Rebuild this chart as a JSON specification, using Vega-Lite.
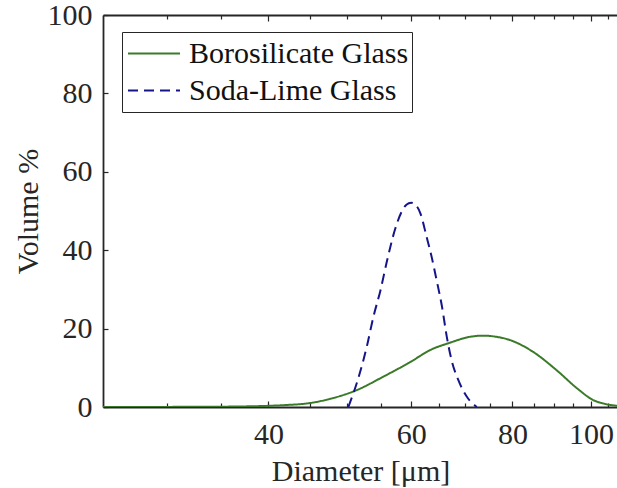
{
  "$schema": "https://vega.github.io/schema/vega-lite/v6.json",
  "width": 515,
  "height": 392,
  "autosize": {"type": "none"},
  "padding": {"left": 103, "top": 15, "right": 0, "bottom": 81},
  "background": "white",
  "config": {
    "view": {"stroke": null},
    "font": "Liberation Serif",
    "axis": {
      "labelFont": "Liberation Serif",
      "titleFont": "Liberation Serif",
      "labelFontSize": 30,
      "titleFontSize": 30,
      "titleFontWeight": "normal",
      "labelColor": "#262626",
      "titleColor": "#262626",
      "domainColor": "#262626",
      "tickColor": "#262626",
      "domainWidth": 1.8,
      "tickWidth": 1.2,
      "grid": false
    }
  },
  "data": {
    "values": [
      {"series": "Borosilicate Glass", "d": 25, "v": 0.02},
      {"series": "Borosilicate Glass", "d": 30, "v": 0.03},
      {"series": "Borosilicate Glass", "d": 35, "v": 0.08},
      {"series": "Borosilicate Glass", "d": 38, "v": 0.18},
      {"series": "Borosilicate Glass", "d": 40, "v": 0.3},
      {"series": "Borosilicate Glass", "d": 42, "v": 0.5},
      {"series": "Borosilicate Glass", "d": 45, "v": 1.0},
      {"series": "Borosilicate Glass", "d": 47.7, "v": 2.1},
      {"series": "Borosilicate Glass", "d": 51.4, "v": 4.3},
      {"series": "Borosilicate Glass", "d": 55.4, "v": 7.7},
      {"series": "Borosilicate Glass", "d": 60, "v": 11.6},
      {"series": "Borosilicate Glass", "d": 63.3, "v": 14.5},
      {"series": "Borosilicate Glass", "d": 67, "v": 16.4},
      {"series": "Borosilicate Glass", "d": 70.9, "v": 17.9},
      {"series": "Borosilicate Glass", "d": 73.6, "v": 18.2},
      {"series": "Borosilicate Glass", "d": 76.5, "v": 17.9},
      {"series": "Borosilicate Glass", "d": 79.4, "v": 17.1},
      {"series": "Borosilicate Glass", "d": 84.8, "v": 14.1},
      {"series": "Borosilicate Glass", "d": 90.7, "v": 9.4},
      {"series": "Borosilicate Glass", "d": 96.1, "v": 4.8},
      {"series": "Borosilicate Glass", "d": 100.6, "v": 1.8},
      {"series": "Borosilicate Glass", "d": 104, "v": 0.8},
      {"series": "Borosilicate Glass", "d": 108, "v": 0.3},
      {"series": "Soda-Lime Glass", "d": 50.2, "v": 0},
      {"series": "Soda-Lime Glass", "d": 51.7, "v": 7.7},
      {"series": "Soda-Lime Glass", "d": 52.9, "v": 15.4},
      {"series": "Soda-Lime Glass", "d": 53.9, "v": 23},
      {"series": "Soda-Lime Glass", "d": 55, "v": 29.8},
      {"series": "Soda-Lime Glass", "d": 56, "v": 37.1},
      {"series": "Soda-Lime Glass", "d": 57.3, "v": 45.2},
      {"series": "Soda-Lime Glass", "d": 58.4, "v": 49.8},
      {"series": "Soda-Lime Glass", "d": 59.2, "v": 51.6},
      {"series": "Soda-Lime Glass", "d": 60, "v": 52.1},
      {"series": "Soda-Lime Glass", "d": 60.8, "v": 51.5},
      {"series": "Soda-Lime Glass", "d": 61.6, "v": 49.4},
      {"series": "Soda-Lime Glass", "d": 62.7, "v": 43.4},
      {"series": "Soda-Lime Glass", "d": 63.6, "v": 38.3},
      {"series": "Soda-Lime Glass", "d": 64.5, "v": 32.4},
      {"series": "Soda-Lime Glass", "d": 65.5, "v": 25.6},
      {"series": "Soda-Lime Glass", "d": 66.4, "v": 17.9},
      {"series": "Soda-Lime Glass", "d": 67.3, "v": 12.0},
      {"series": "Soda-Lime Glass", "d": 68.6, "v": 6.9},
      {"series": "Soda-Lime Glass", "d": 70.3, "v": 2.6},
      {"series": "Soda-Lime Glass", "d": 72.3, "v": 0}
    ]
  },
  "layer": [
    {
      "mark": {"type": "line", "interpolate": "monotone", "strokeWidth": 2, "clip": true},
      "encoding": {
        "x": {
          "field": "d", "type": "quantitative",
          "scale": {"type": "log", "domain": [25, 108], "nice": false},
          "axis": {
            "orient": "bottom",
            "title": "Diameter [μm]",
            "values": [30, 35, 40, 45, 50, 55, 60, 65, 70, 75, 80, 85, 90, 95, 100, 105],
            "labelExpr": "indexof([40,60,80,100], datum.value) >= 0 ? datum.label : ''",
            "tickSize": {"condition": {"test": "indexof([40,60,80,100], datum.value) >= 0", "value": -6}, "value": -4},
            "labelPadding": 18,
            "labelFlush": false,
            "labelOverlap": false,
            "titlePadding": 5
          }
        },
        "y": {
          "field": "v", "type": "quantitative",
          "scale": {"domain": [0, 100], "nice": false},
          "axis": {
            "title": "Volume %",
            "values": [0, 20, 40, 60, 80, 100],
            "tickSize": -5,
            "labelPadding": 16,
            "titlePadding": 4
          }
        },
        "color": {
          "field": "series", "type": "nominal",
          "scale": {"domain": ["Borosilicate Glass", "Soda-Lime Glass"], "range": ["#3a7a28", "#15158a"]},
          "legend": {
            "title": null,
            "orient": "none",
            "legendX": 19,
            "legendY": 17,
            "direction": "vertical",
            "fillColor": "white",
            "strokeColor": "#262626",
            "padding": 3,
            "symbolType": "stroke",
            "symbolSize": 2704,
            "symbolStrokeWidth": 2,
            "symbolOffset": 2,
            "clipHeight": 37,
            "labelFont": "Liberation Serif",
            "labelFontSize": 30,
            "labelColor": "#111111",
            "labelOffset": 8,
            "labelLimit": 0,
            "labelExpr": "datum.label + '\u00a0'",
            "rowPadding": 0
          }
        },
        "strokeDash": {
          "field": "series", "type": "nominal",
          "scale": {"domain": ["Borosilicate Glass", "Soda-Lime Glass"], "range": [[1, 0], [10, 6]]},
          "legend": null
        }
      }
    },
    {
      "mark": {"type": "rule", "opacity": 0},
      "encoding": {
        "x": {
          "field": "d", "type": "quantitative",
          "axis": {
            "orient": "top",
            "title": null,
            "labels": false,
            "values": [30, 35, 40, 45, 50, 55, 60, 65, 70, 75, 80, 85, 90, 95, 100, 105],
            "tickSize": {"condition": {"test": "indexof([40,60,80,100], datum.value) >= 0", "value": -6}, "value": -4}
          }
        }
      }
    }
  ],
  "resolve": {"axis": {"x": "independent"}}
}
